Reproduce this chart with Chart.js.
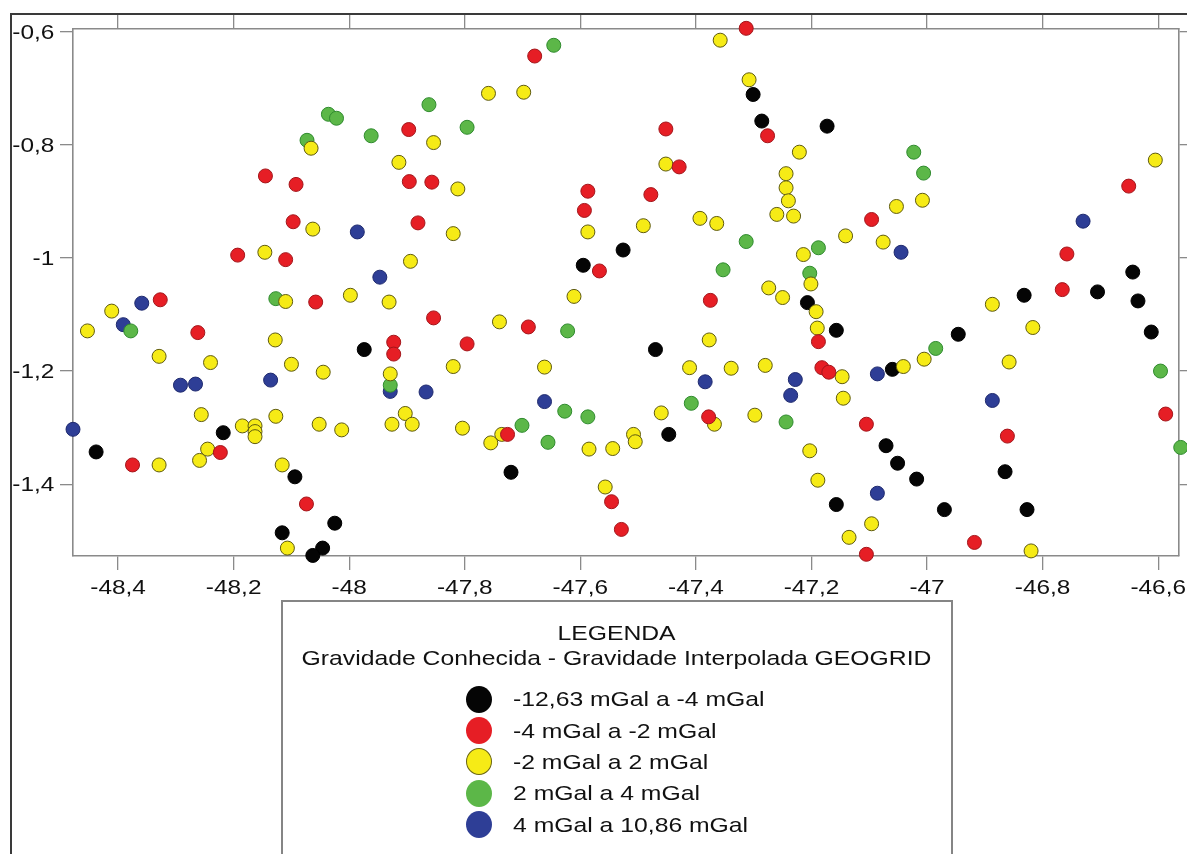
<!DOCTYPE html>
<html>
<head>
<meta charset="utf-8">
<title>Gravidade Conhecida - Gravidade Interpolada GEOGRID</title>
<script src="https://cdn.jsdelivr.net/npm/chart.js@4.4.1/dist/chart.umd.min.js"></script>
<style>
  html, body { margin: 0; padding: 0; background: #fff; }
  #wrap { position: relative; width: 1187px; height: 854px; overflow: hidden;
          font-family: 'Liberation Sans', Arial, sans-serif; color: #111; }
  #plot { position: absolute; left: 0; top: 0; }
  #frame { position: absolute; left: 10px; top: 13px; width: 1400px; height: 1000px;
           border-top: 2px solid #3a3a3a; border-left: 2px solid #3a3a3a; pointer-events: none; }
  #legendBox { position: absolute; left: 281px; top: 600px; width: 668px; height: 400px;
               border: 2px solid #858585; background: #fff; }
  .lt { position: absolute; font-size: 21px; line-height: 22px; white-space: nowrap; }
  .center { left: 282px; width: 669px; text-align: center; transform: scaleX(1.178); transform-origin: 50% 50%; }
  .item { left: 513px; transform: scaleX(1.178); transform-origin: 0 50%; }
  .dot { position: absolute; width: 26px; height: 27px; border-radius: 50%; box-sizing: border-box; }
</style>
</head>
<body>
<div id="wrap">
  <canvas id="plot" width="1187" height="854"></canvas>
  <div id="frame"></div>
  <div id="legendBox"></div>
  <div class="lt center" style="top:622px">LEGENDA</div>
  <div class="lt center" style="top:647px">Gravidade Conhecida - Gravidade Interpolada GEOGRID</div>
  <div id="legendItems"></div>
</div>
<script>
// Axis limits (longitude / latitude, decimal degrees)
const lonRange = [-48.478, -46.564];
const latRange = [-1.527, -0.5952];
const tickStep = 0.2;

// Class labels of the difference (known gravity - interpolated gravity)
const classLabels = [
  '-12,63 mGal a -4 mGal',
  '-4 mGal a -2 mGal',
  '-2 mGal a 2 mGal',
  '2 mGal a 4 mGal',
  '4 mGal a 10,86 mGal'
];

// Stations in the class -12,63 to -4 mGal
const blackLon = [-47.974, -48.438, -48.218, -48.094, -48.025, -48.116, -48.046, -48.063, -47.301, -47.286,
                  -47.526, -47.595, -47.173, -47.207, -47.157, -46.832, -46.705, -46.644, -46.635, -46.612,
                  -46.946, -47.060, -47.470, -47.447, -47.720, -47.071, -47.051, -47.018, -46.865, -47.157,
                  -46.970, -46.827];
const blackLat = [-1.162, -1.343, -1.309, -1.387, -1.469, -1.486, -1.513, -1.526, -0.711, -0.758,
                  -0.986, -1.013, -0.767, -1.079, -1.128, -1.066, -1.060, -1.025, -1.076, -1.131,
                  -1.135, -1.197, -1.162, -1.312, -1.379, -1.332, -1.363, -1.391, -1.378, -1.436,
                  -1.445, -1.445];

// Stations in the class -4 to -2 mGal
const redLon = [-47.313, -47.679, -47.897, -48.145, -48.092, -47.896, -47.857, -48.097, -47.881, -48.193,
                -48.110, -48.327, -48.262, -48.058, -47.923, -47.923, -48.375, -48.223, -48.074, -47.452,
                -47.429, -47.276, -47.587, -47.593, -47.478, -47.567, -47.375, -47.854, -47.690, -47.796,
                -47.378, -47.726, -47.546, -47.529, -47.096, -47.188, -47.182, -47.170, -47.105, -47.105,
                -46.918, -46.861, -46.758, -46.766, -46.651, -46.587];
const redLat = [-0.594, -0.643, -0.773, -0.855, -0.870, -0.865, -0.866, -0.936, -0.938, -0.995,
                -1.003, -1.074, -1.132, -1.078, -1.149, -1.170, -1.366, -1.344, -1.435, -0.772,
                -0.839, -0.784, -0.882, -0.916, -0.888, -1.023, -1.075, -1.106, -1.122, -1.152,
                -1.281, -1.312, -1.431, -1.480, -0.932, -1.148, -1.194, -1.202, -1.294, -1.524,
                -1.503, -1.315, -0.993, -1.056, -0.873, -1.276];

// Stations in the class -2 to 2 mGal
const yellowLon = [-48.066, -47.914, -48.063, -48.146, -48.411, -48.453, -48.110, -47.998, -47.931, -48.128,
                   -48.329, -48.240, -48.100, -48.045, -47.929, -48.256, -48.127, -48.052, -48.013, -47.926,
                   -47.903, -47.891, -48.185, -48.163, -48.163, -48.163, -48.329, -48.245, -48.259, -48.116,
                   -48.107, -47.759, -47.698, -47.854, -47.812, -47.820, -47.894, -47.358, -47.308, -47.452,
                   -47.221, -47.244, -47.244, -47.240, -47.260, -47.231, -47.587, -47.491, -47.393, -47.364,
                   -47.274, -47.250, -47.611, -47.214, -47.008, -47.053, -47.141, -47.076, -47.201, -46.605,
                   -47.192, -47.190, -47.147, -47.145, -46.887, -46.817, -47.005, -47.041, -46.858, -47.203,
                   -47.189, -47.096, -47.135, -46.820, -47.740, -47.820, -47.662, -47.377, -47.411, -47.339,
                   -47.280, -47.460, -47.368, -47.298, -47.804, -47.736, -47.755, -47.585, -47.544, -47.508,
                   -47.505, -47.557];
const yellowLat = [-0.806, -0.831, -0.949, -0.990, -1.094, -1.129, -1.077, -1.066, -1.078, -1.145,
                   -1.174, -1.185, -1.188, -1.202, -1.205, -1.277, -1.280, -1.294, -1.304, -1.294,
                   -1.275, -1.294, -1.297, -1.297, -1.307, -1.316, -1.366, -1.338, -1.358, -1.366,
                   -1.513, -0.709, -0.707, -0.796, -0.878, -0.957, -1.006, -0.615, -0.685, -0.834,
                   -0.813, -0.851, -0.876, -0.899, -0.923, -0.926, -0.954, -0.943, -0.930, -0.939,
                   -1.053, -1.070, -1.068, -0.994, -0.898, -0.909, -0.961, -0.972, -1.046, -0.827,
                   -1.095, -1.124, -1.210, -1.248, -1.082, -1.123, -1.179, -1.192, -1.184, -1.341,
                   -1.393, -1.470, -1.494, -1.518, -1.113, -1.192, -1.193, -1.145, -1.194, -1.195,
                   -1.190, -1.274, -1.294, -1.278, -1.301, -1.312, -1.327, -1.338, -1.337, -1.312,
                   -1.325, -1.405];

// Stations in the class 2 to 4 mGal
const greenLon = [-48.036, -48.022, -47.962, -48.073, -48.378, -48.127, -47.929, -47.646, -47.862, -47.796,
                  -47.313, -47.353, -47.622, -47.627, -47.587, -47.408, -47.244, -47.701, -47.656, -47.023,
                  -47.006, -47.188, -47.203, -46.985, -46.596, -46.561];
const greenLat = [-0.746, -0.753, -0.784, -0.792, -1.129, -1.072, -1.225, -0.624, -0.729, -0.769,
                  -0.971, -1.021, -1.129, -1.271, -1.281, -1.257, -1.290, -1.296, -1.326, -0.813,
                  -0.850, -0.982, -1.027, -1.160, -1.200, -1.335];

// Stations in the class 4 to 10,86 mGal
const blueLon = [-47.986, -47.947, -48.359, -48.391, -48.292, -48.266, -48.136, -47.929, -48.478, -47.867,
                 -47.662, -47.384, -47.228, -47.236, -47.086, -47.086, -47.045, -46.730, -46.887];
const blueLat = [-0.954, -1.034, -1.080, -1.118, -1.225, -1.223, -1.216, -1.236, -1.303, -1.237,
                 -1.254, -1.219, -1.215, -1.243, -1.205, -1.416, -0.990, -0.935, -1.252];

// Marker styling per class (fill, rim, stacking order: lower draws on top)
const classStyles = [
  { fill: '#050505', rim: '#000000', order: 4 },
  { fill: '#e61e25', rim: '#a3161b', order: 0 },
  { fill: '#f6eb16', rim: '#5e5a10', order: 1 },
  { fill: '#5cb748', rim: '#2f8a2e', order: 2 },
  { fill: '#2e3e96', rim: '#1f2a6e', order: 3 }
];
const classData = [
  [blackLon, blackLat], [redLon, redLat], [yellowLon, yellowLat],
  [greenLon, greenLat], [blueLon, blueLat]
];

const AXIS_GRAY = '#8a8a8a';
const LABEL_COLOR = '#111111';

function tickText(v) {
  return String(Math.round(v * 10) / 10).replace('.', ',');
}

// Tick labels drawn with a slight horizontal stretch (wide sans face)
const stretchedTickLabels = {
  id: 'stretchedTickLabels',
  afterDraw(chart, args, o) {
    const ctx = chart.ctx;
    ctx.save();
    ctx.font = o.size + 'px ' + o.family;
    ctx.fillStyle = o.color;
    ctx.textBaseline = 'alphabetic';
    const xs = chart.scales.x;
    ctx.textAlign = 'center';
    xs.ticks.forEach((t, i) => {
      const px = xs.getPixelForTick(i);
      ctx.save();
      ctx.translate(px, xs.top + o.xGap);
      ctx.scale(o.stretch, 1);
      ctx.fillText(tickText(t.value), 0, 0);
      ctx.restore();
    });
    const ys = chart.scales.y;
    ctx.textAlign = 'right';
    ys.ticks.forEach((t, i) => {
      const py = ys.getPixelForTick(i);
      ctx.save();
      ctx.translate(ys.right - o.yGap, py + o.size * 0.358);
      ctx.scale(o.stretch, 1);
      ctx.fillText(tickText(t.value), 0, 0);
      ctx.restore();
    });
    ctx.restore();
  }
};

function axis(position, range, size, tickLength) {
  const horizontal = position === 'top' || position === 'bottom';
  return {
    type: 'linear',
    position: position,
    min: range[0],
    max: range[1],
    afterFit: (s) => { if (horizontal) { s.height = size; } else { s.width = size; } },
    ticks: { display: false, stepSize: tickStep, includeBounds: false, maxTicksLimit: 20 },
    grid: { display: true, drawOnChartArea: false, drawTicks: true, tickLength: tickLength,
            color: AXIS_GRAY, lineWidth: 1.3 },
    border: { display: true, color: AXIS_GRAY, width: 1.6 }
  };
}

const datasets = classData.map((pair, k) => ({
  label: classLabels[k],
  data: pair[0].map((lon, i) => ({ x: lon, y: pair[1][i] })),
  backgroundColor: classStyles[k].fill,
  borderColor: classStyles[k].rim,
  borderWidth: 1,
  pointRadius: 7,
  pointHoverRadius: 7,
  pointStyle: 'circle',
  clip: false,
  order: classStyles[k].order
}));

new Chart(document.getElementById('plot'), {
  type: 'scatter',
  data: { datasets: datasets },
  options: {
    responsive: false,
    animation: false,
    devicePixelRatio: 1,
    layout: { padding: 0 },
    events: [],
    plugins: {
      legend: { display: false },
      tooltip: { enabled: false },
      stretchedTickLabels: { size: 20, family: "'Liberation Sans', Arial, sans-serif",
                             color: LABEL_COLOR, stretch: 1.22, xGap: 38.3, yGap: 18.7 }
    },
    scales: {
      x: axis('bottom', lonRange, 298, 14),
      xTop: axis('top', lonRange, 29, 15),
      y: axis('left', latRange, 73, 13),
      yRight: axis('right', latRange, 8, 8)
    }
  },
  plugins: [stretchedTickLabels]
});

// Legend entries
const rowCenters = [699.2, 730.5, 761.8, 793.1, 824.4];
const legendItems = document.getElementById('legendItems');
classLabels.forEach((label, k) => {
  const dot = document.createElement('div');
  dot.className = 'dot';
  dot.style.left = (478.7 - 13) + 'px';
  dot.style.top = (rowCenters[k] - 13.5) + 'px';
  dot.style.background = classStyles[k].fill;
  if (k === 2) { dot.style.border = '1px solid #6b6614'; }
  legendItems.appendChild(dot);
  const txt = document.createElement('div');
  txt.className = 'lt item';
  txt.style.top = (rowCenters[k] - 10.75) + 'px';
  txt.textContent = label;
  legendItems.appendChild(txt);
});
</script>
</body>
</html>
